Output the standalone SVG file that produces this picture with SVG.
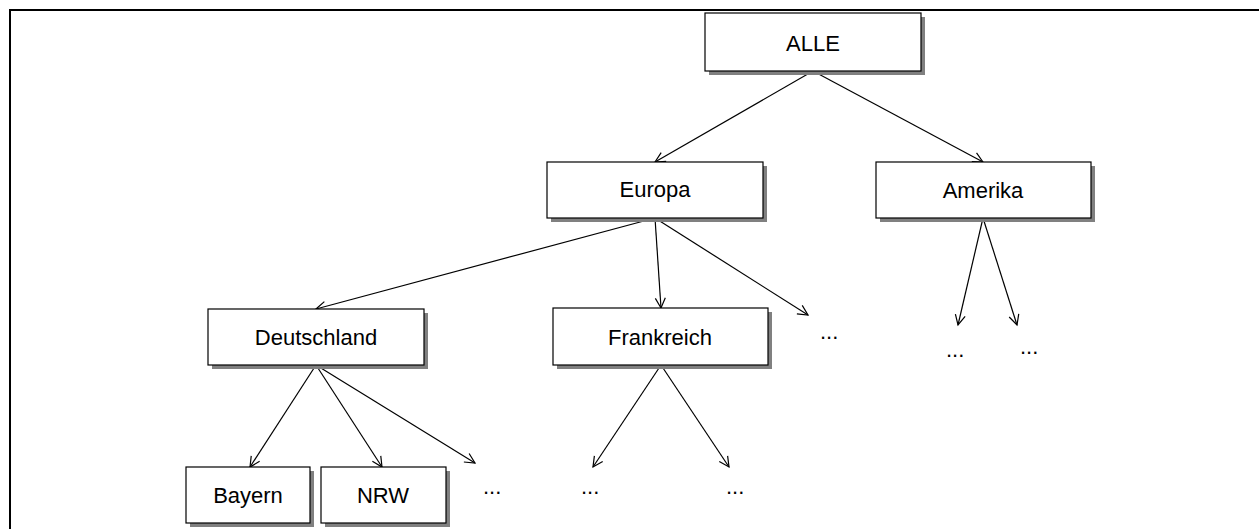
<svg xmlns="http://www.w3.org/2000/svg" width="1259" height="529" viewBox="0 0 1259 529">
  <defs>
    <marker id="arrow" markerUnits="userSpaceOnUse" markerWidth="14" markerHeight="12" refX="11" refY="6" orient="auto">
      <path d="M1,1 L11,6 L1,11" fill="none" stroke="#000" stroke-width="1.2"/>
    </marker>
    <style>
      .box { fill: #fff; stroke: #000; stroke-width: 1.2; }
      .shadow { fill: #808080; }
      .label { font-family: "Liberation Sans", Arial, sans-serif; font-size: 22px; fill: #000; text-anchor: middle; }
      .dots { font-family: "Liberation Sans", Arial, sans-serif; font-size: 22px; fill: #000; }
      .edge { stroke: #000; stroke-width: 1.2; fill: none; marker-end: url(#arrow); }
      .frame { stroke: #000; stroke-width: 2; fill: none; }
    </style>
  </defs>

  <rect width="1259" height="529" fill="#fff"/>
  <path class="frame" d="M10,529 V10 H1259"/>

  <!-- connectors -->
  <g id="connectors">
    <line class="edge" x1="813" y1="71" x2="655" y2="162"/>
    <line class="edge" x1="813" y1="71" x2="983" y2="162"/>
    <line class="edge" x1="655" y1="218" x2="316" y2="309"/>
    <line class="edge" x1="655" y1="218" x2="661" y2="308"/>
    <line class="edge" x1="655" y1="218" x2="808" y2="315"/>
    <line class="edge" x1="983" y1="218" x2="958" y2="325"/>
    <line class="edge" x1="983" y1="218" x2="1017" y2="325"/>
    <line class="edge" x1="316" y1="365" x2="250" y2="467"/>
    <line class="edge" x1="316" y1="365" x2="382" y2="467"/>
    <line class="edge" x1="316" y1="365" x2="475" y2="463"/>
    <line class="edge" x1="661" y1="365" x2="593" y2="467"/>
    <line class="edge" x1="661" y1="365" x2="729" y2="467"/>
  </g>

  <g id="node-alle">
    <rect class="shadow" x="709" y="17" width="216" height="58"/>
    <rect class="box" x="705" y="13" width="216" height="58"/>
    <text class="label" x="813" y="51">ALLE</text>
  </g>

  <g id="node-europa">
    <rect class="shadow" x="551" y="166" width="216" height="56"/>
    <rect class="box" x="547" y="162" width="216" height="56"/>
    <text class="label" x="655" y="197">Europa</text>
  </g>

  <g id="node-amerika">
    <rect class="shadow" x="880" y="166" width="215" height="56"/>
    <rect class="box" x="876" y="162" width="215" height="56"/>
    <text class="label" x="983" y="198">Amerika</text>
  </g>

  <g id="node-deutschland">
    <rect class="shadow" x="212" y="313" width="216" height="56"/>
    <rect class="box" x="208" y="309" width="216" height="56"/>
    <text class="label" x="316" y="345">Deutschland</text>
  </g>

  <g id="node-frankreich">
    <rect class="shadow" x="557" y="312" width="215" height="57"/>
    <rect class="box" x="553" y="308" width="215" height="57"/>
    <text class="label" x="660" y="345">Frankreich</text>
  </g>

  <g id="node-bayern">
    <rect class="shadow" x="190" y="471" width="124" height="56"/>
    <rect class="box" x="186" y="467" width="124" height="56"/>
    <text class="label" x="248" y="503">Bayern</text>
  </g>

  <g id="node-nrw">
    <rect class="shadow" x="325" y="471" width="125" height="56"/>
    <rect class="box" x="321" y="467" width="125" height="56"/>
    <text class="label" x="383" y="503">NRW</text>
  </g>

  <!-- open continuations -->
  <g id="ellipses">
    <text class="dots" x="820" y="339">...</text>
    <text class="dots" x="946" y="357">...</text>
    <text class="dots" x="1020" y="354">...</text>
    <text class="dots" x="483" y="494">...</text>
    <text class="dots" x="581" y="494">...</text>
    <text class="dots" x="726" y="494">...</text>
  </g>
</svg>
